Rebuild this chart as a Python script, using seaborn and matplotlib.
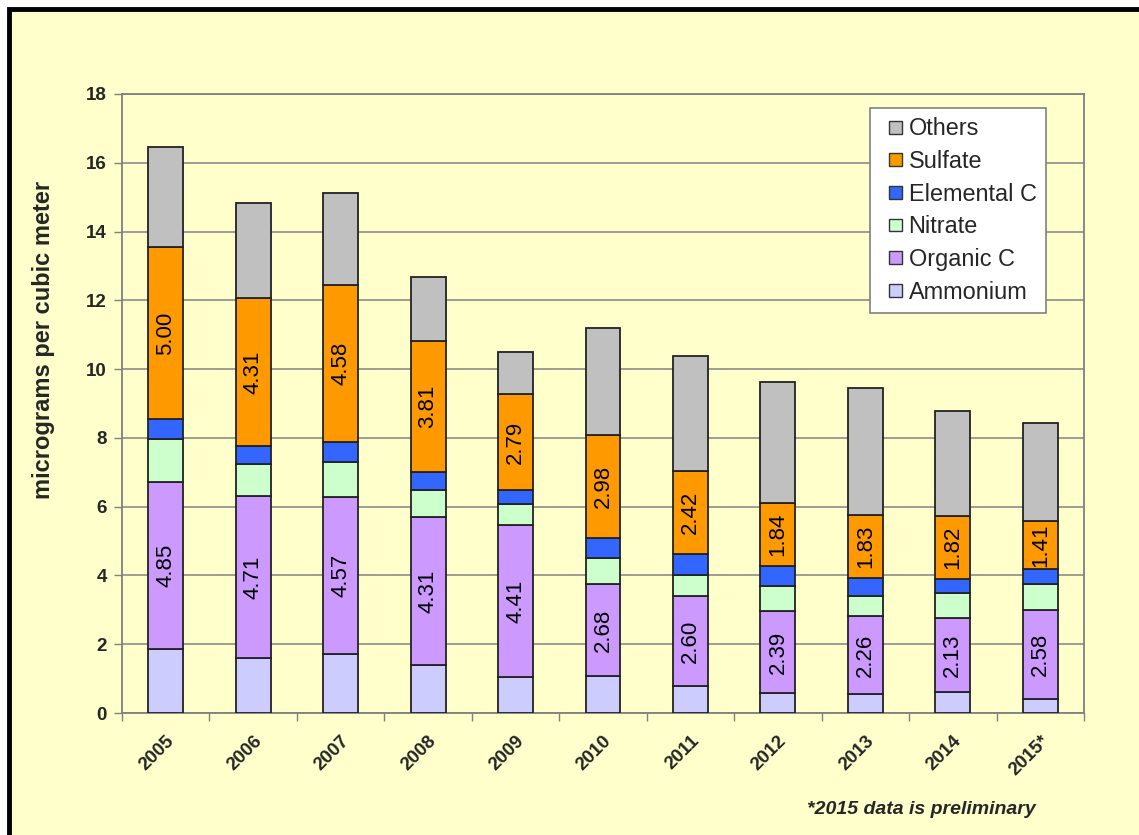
import matplotlib
matplotlib.use("Agg")
import matplotlib.pyplot as plt
from matplotlib.patches import Rectangle, Patch
from matplotlib.legend_handler import HandlerPatch
import seaborn as sns
import numpy as np

years = ["2005", "2006", "2007", "2008", "2009", "2010", "2011", "2012", "2013", "2014", "2015*"]
ammonium = [1.86, 1.59, 1.72, 1.39, 1.05, 1.07, 0.79, 0.57, 0.55, 0.62, 0.42]
organic_c = [4.85, 4.71, 4.57, 4.31, 4.41, 2.68, 2.60, 2.39, 2.26, 2.13, 2.58]
nitrate = [1.25, 0.93, 1.00, 0.78, 0.62, 0.75, 0.62, 0.73, 0.59, 0.73, 0.74]
elemental_c = [0.58, 0.53, 0.59, 0.53, 0.40, 0.60, 0.61, 0.58, 0.54, 0.42, 0.44]
sulfate = [5.00, 4.31, 4.58, 3.81, 2.79, 2.98, 2.42, 1.84, 1.83, 1.82, 1.41]
others = [2.92, 2.76, 2.66, 1.86, 1.23, 3.11, 3.34, 3.51, 3.68, 3.06, 2.84]

series_names = ["Ammonium", "Organic C", "Nitrate", "Elemental C", "Sulfate", "Others"]
series_vals = [ammonium, organic_c, nitrate, elemental_c, sulfate, others]
series_colors = ["#CCCCFF", "#CC99FF", "#CCFFCC", "#3366FF", "#FF9900", "#C0C0C0"]
labelled = {"Organic C", "Sulfate"}

y_ticks = [0, 2, 4, 6, 8, 10, 12, 14, 16, 18]
y_label = "micrograms per cubic meter"
footnote = "*2015 data is preliminary"

BG = "#FFFFCC"
sns.set_theme(style="white")
plt.rcParams["font.family"] = ["Liberation Sans", "DejaVu Sans"]

fig = plt.figure(figsize=(11.39, 8.35), dpi=100)
fig.patch.set_facecolor("white")
fig.patches.append(Rectangle((9 / 1139, -0.1), 1.2, (826 / 835) + 0.1,
                             transform=fig.transFigure, facecolor=BG,
                             edgecolor="black", linewidth=3.5, zorder=-10))

ax = fig.add_axes([122 / 1139, (835 - 713) / 835, 962 / 1139, 619 / 835])
ax.set_facecolor(BG)

bottom = np.zeros(len(years))
for name, vals, col in zip(series_names, series_vals, series_colors):
    sns.barplot(x=years, y=vals, bottom=bottom.copy(), color=col, width=0.4,
                edgecolor="#222222", linewidth=1.3, saturation=1, ax=ax,
                zorder=3)
    cont = ax.containers[-1]
    if name in labelled:
        ax.bar_label(cont, labels=[f"{v:.2f}" for v in vals], label_type="center",
                     rotation=90, fontsize=16, color="black", zorder=4)
    bottom += np.array(vals)

ax.set_ylim(0, 18)
ax.set_xlim(-0.5, len(years) - 0.5)
ax.set_yticks(y_ticks)
ax.set_yticklabels([str(t) for t in y_ticks], fontsize=13.5, fontweight="bold")
ax.yaxis.grid(True, color="#8C8C8C", linewidth=1.2, zorder=0)
ax.set_axisbelow(True)
ax.tick_params(axis="y", which="major", direction="out", length=6, width=1,
               color="#808080", pad=5, left=True)
ax.set_xticks(range(len(years)))
ax.set_xticklabels(years, fontsize=13.5, fontweight="bold", rotation=45,
                   ha="right", rotation_mode="anchor")
ax.tick_params(axis="x", which="major", length=0, pad=14)
ax.set_xticks(np.arange(-0.5, len(years), 1.0), minor=True)
ax.tick_params(axis="x", which="minor", direction="out", length=6, width=1,
               color="#808080", bottom=True)
ax.set_xlabel("")
ax.set_ylabel(y_label, fontsize=17, fontweight="bold")
ax.yaxis.set_label_coords((55 - 122) / 962, (713 - 340) / 619)

for sp in ax.spines.values():
    sp.set_visible(True)
    sp.set_color("#808080")
    sp.set_linewidth(1.3)


def square_patch(legend, orig_handle, xdescent, ydescent, width, height, fontsize):
    s = 0.55 * fontsize
    return Rectangle((-xdescent + width - s, -ydescent + (height - s) / 2), s, s)


handles = [Patch(facecolor=c, edgecolor="#333333", linewidth=1, label=n)
           for n, c in zip(series_names, series_colors)][::-1]
leg = ax.legend(handles=handles, loc="upper right",
                bbox_to_anchor=((1046 - 122) / 962, (713 - 108) / 619),
                borderaxespad=0, fontsize=16.9, frameon=True, fancybox=False,
                handlelength=0.95, handleheight=0.55, handletextpad=0.28,
                labelspacing=0.41, borderpad=0.4,
                handler_map={Patch: HandlerPatch(patch_func=square_patch)})
leg.get_frame().set_facecolor("white")
leg.get_frame().set_edgecolor("#808080")
leg.get_frame().set_linewidth(1.2)
leg.get_frame().set_alpha(1)
leg.set_zorder(10)

fig.text(921 / 1139, 1 - 810 / 835, footnote, fontsize=14, fontweight="bold",
         fontstyle="italic", ha="center", va="center")

fig.savefig("out.png", dpi=100, facecolor=fig.get_facecolor())
